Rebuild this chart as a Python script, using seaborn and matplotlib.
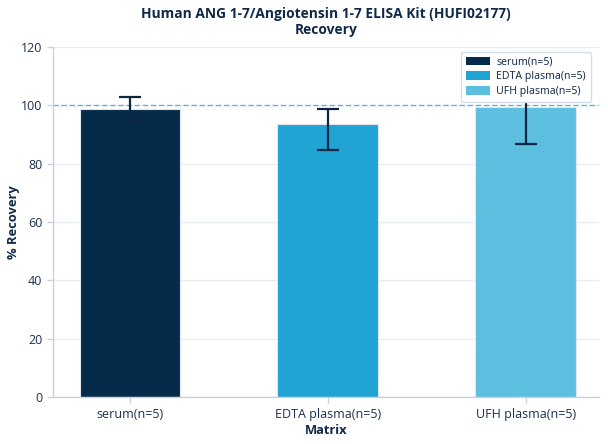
import matplotlib
matplotlib.use("Agg")
import matplotlib.pyplot as plt
import seaborn as sns
import pandas as pd
from matplotlib.patches import Patch

categories = ["serum(n=5)", "EDTA plasma(n=5)", "UFH plasma(n=5)"]
recovery = [98.5, 93.5, 99.5]
err_lower = [4.3, 8.7, 12.7]
err_upper = [4.4, 5.3, 12.7]
colors = ["#062b4a", "#20a4d3", "#5dbfe0"]

df = pd.DataFrame({"Matrix": categories, "Recovery": recovery})

sns.set_theme(style="white")
plt.rcParams["font.family"] = ["Open Sans", "DejaVu Sans"]
text_color = "#1a3050"
title_color = "#0f2a48"

fig, ax = plt.subplots(figsize=(6.08, 4.44), dpi=100)
sns.barplot(data=df, x="Matrix", y="Recovery", hue="Matrix", palette=colors,
            saturation=1, width=0.51, edgecolor="#e0e6ec", linewidth=0.8,
            legend=False, ax=ax, zorder=2)
ax.errorbar(x=range(len(categories)), y=recovery, yerr=[err_lower, err_upper],
            fmt="none", ecolor="#0a2640", elinewidth=1.6, capsize=8,
            capthick=1.6, zorder=3)
ax.axhline(100, color="#45b6e6", linestyle=(0, (4, 2.5)), linewidth=0.9,
           zorder=1.5)

ax.set_ylim(0, 120)
ax.set_xlim(-0.39, 2.37)
ax.set_yticks(range(0, 121, 20))
ax.yaxis.grid(True, color="#e6ecf1", linewidth=1.0, zorder=0)
ax.set_axisbelow(True)
for s in ["top", "right"]:
    ax.spines[s].set_visible(False)
for s in ["left", "bottom"]:
    ax.spines[s].set_color("#c8d2dc")
    ax.spines[s].set_linewidth(1.0)
ax.tick_params(axis="both", colors="#c8d2dc", labelcolor=text_color,
               labelsize=9, length=4, width=1, left=True, bottom=True)

ax.set_xlabel("Matrix", fontsize=9.3, fontweight="bold", color=title_color,
              labelpad=2)
ax.set_ylabel("% Recovery", fontsize=9.3, fontweight="bold", color=title_color,
              labelpad=1)
ax.set_title("Human ANG 1-7/Angiotensin 1-7 ELISA Kit (HUFI02177)\nRecovery",
             fontsize=9.9, fontweight="bold", color=title_color, pad=9,
             linespacing=1.15)

handles = [Patch(facecolor=c, edgecolor="none") for c in colors]
leg = ax.legend(handles, categories, loc="upper right",
                prop={"family": ["Noto Sans", "DejaVu Sans"], "size": 7.6},
                frameon=True, framealpha=1, edgecolor="#d5dde5",
                handlelength=2.3, handleheight=0.9, borderpad=0.45,
                labelspacing=0.35, handletextpad=0.6,
                bbox_to_anchor=(0.995, 1.0))
leg.set_zorder(5)
for t in leg.get_texts():
    t.set_color(text_color)

fig.subplots_adjust(left=0.087, right=0.985, top=0.895, bottom=0.105)
fig.savefig("out.png", dpi=100)
